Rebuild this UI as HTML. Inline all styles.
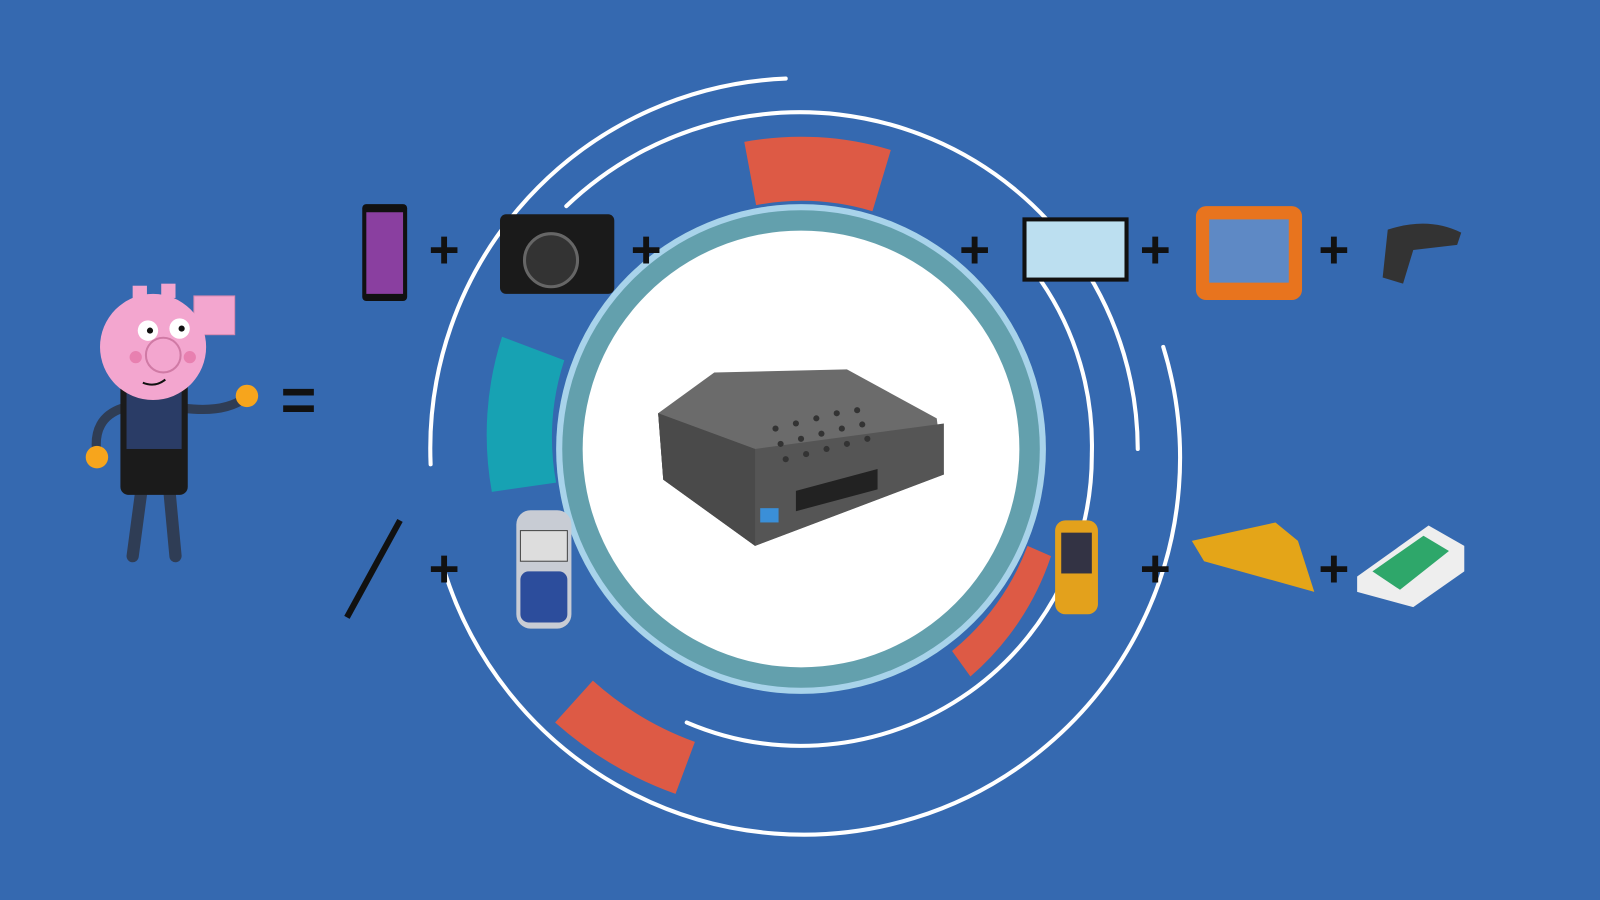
<!DOCTYPE html>
<html><head><meta charset="utf-8"><style>
html,body{margin:0;padding:0;background:#3569b0;width:1600px;height:900px;overflow:hidden}
svg{display:block}
text{font-family:"Liberation Sans",sans-serif}
</style></head><body>
<svg width="1600" height="900" viewBox="0 0 1568 882" preserveAspectRatio="none" xmlns="http://www.w3.org/2000/svg">
<rect width="1568" height="882" fill="#3569b0"/>
<g transform="translate(785,440)">
<path d="M -55.6 -301 A 306 306 0 0 1 88 -293 L 70 -233 A 243 243 0 0 0 -44 -239 Z" fill="#dd5a45"/>
<path d="M -293 -110 A 313 313 0 0 0 -303 42 L -240 33 A 242 242 0 0 1 -232 -87 Z" fill="#17a2b3"/>
<path d="M -123 338 A 360 360 0 0 1 -241 268 L -204 227 A 305 305 0 0 0 -104 287 Z" fill="#dd5a45"/>
<path d="M 245 105 A 267 267 0 0 1 166 223 L 148 198 A 242 242 0 0 0 222 95 Z" fill="#dd5a45"/>
<g fill="none" stroke="#fff" stroke-width="4" stroke-linecap="round">
<path d="M -15 -363 A 363 363 0 0 0 -363 15"/>
<path d="M -230 -238 A 331 331 0 0 1 330 0"/>
<path d="M -350 118 A 365 365 0 0 0 355 -100"/>
<path d="M -112 268 A 285 285 0 0 0 285 5 A 285 285 0 0 0 235 -165"/>
</g>
<circle r="240" fill="#a8d3ea"/>
<circle r="234" fill="#63a0ad"/>
<circle r="214" fill="#fff"/>
</g>
<g>
<path d="M645 405 L700 365 L830 362 L918 410 L925 465 L740 535 L650 470 Z" fill="#6b6b6b"/>
<path d="M645 405 L740 440 L925 415 L925 465 L740 535 L650 470 Z" fill="#555"/>
<path d="M740 440 L740 535 L650 470 L645 405 Z" fill="#4a4a4a"/>
<g fill="#333">
<circle cx="760" cy="420" r="3"/><circle cx="780" cy="415" r="3"/><circle cx="800" cy="410" r="3"/><circle cx="820" cy="405" r="3"/><circle cx="840" cy="402" r="3"/>
<circle cx="765" cy="435" r="3"/><circle cx="785" cy="430" r="3"/><circle cx="805" cy="425" r="3"/><circle cx="825" cy="420" r="3"/><circle cx="845" cy="416" r="3"/>
<circle cx="770" cy="450" r="3"/><circle cx="790" cy="445" r="3"/><circle cx="810" cy="440" r="3"/><circle cx="830" cy="435" r="3"/><circle cx="850" cy="430" r="3"/>
</g>
<rect x="780" y="480" width="80" height="20" fill="#222" transform="skewY(-15) translate(0,210)"/>
<rect x="745" y="498" width="18" height="14" fill="#3a8fd8"/>
</g>
<g font-size="52" font-weight="bold" fill="#111">
<text x="420" y="262">+</text><text x="618" y="262">+</text><text x="940" y="262">+</text>
<text x="1117" y="262">+</text><text x="1292" y="262">+</text>
<text x="420" y="575">+</text><text x="1117" y="575">+</text><text x="1292" y="575">+</text>
</g>
<text x="275" y="412" font-size="60" font-weight="bold" fill="#111">=</text>
<rect x="355" y="200" width="44" height="95" rx="4" fill="#111"/>
<rect x="359" y="208" width="36" height="80" fill="#8a3fa0"/>
<rect x="490" y="210" width="112" height="78" rx="6" fill="#1a1a1a"/>
<circle cx="540" cy="255" r="26" fill="#333" stroke="#666" stroke-width="3"/>
<rect x="1002" y="213" width="104" height="63" fill="#111"/>
<rect x="1006" y="217" width="96" height="55" fill="#bcdff0"/>
<rect x="1172" y="202" width="104" height="92" rx="10" fill="#e8741e"/>
<rect x="1185" y="215" width="78" height="62" fill="#5e89c5"/>
<path d="M1360 225 Q1400 212 1432 228 L1428 240 L1385 245 L1375 278 L1355 272 Z" fill="#333"/>
<line x1="392" y1="510" x2="340" y2="605" stroke="#111" stroke-width="6"/>
<rect x="506" y="500" width="54" height="116" rx="14" fill="#c8ccd4"/>
<rect x="510" y="520" width="46" height="30" fill="#ddd" stroke="#444"/>
<rect x="510" y="560" width="46" height="50" rx="8" fill="#2c4d9c"/>
<rect x="1034" y="510" width="42" height="92" rx="10" fill="#e3a11c"/>
<rect x="1040" y="522" width="30" height="40" fill="#334"/>
<path d="M1168 530 L1250 512 L1272 530 L1288 580 L1180 550 Z" fill="#e4a518"/>
<path d="M1330 565 L1400 515 L1435 535 L1435 560 L1385 595 L1330 580 Z" fill="#eee"/>
<path d="M1345 560 L1395 525 L1420 540 L1372 578 Z" fill="#2ea76a"/>
<g>
<path d="M140 470 L130 545 M165 470 L172 545" stroke="#2f3d55" stroke-width="12" stroke-linecap="round"/>
<path d="M120 400 Q90 410 95 445 M180 400 Q220 405 240 390" stroke="#2f3d55" stroke-width="9" fill="none" stroke-linecap="round"/>
<rect x="118" y="370" width="66" height="115" rx="8" fill="#1b1b1b"/>
<rect x="124" y="380" width="54" height="60" fill="#2a3c66"/>
<circle cx="95" cy="448" r="11" fill="#f7a51c"/>
<circle cx="242" cy="388" r="11" fill="#f7a51c"/>
<rect x="130" y="280" width="14" height="14" fill="#f3a6cf"/>
<rect x="158" y="278" width="14" height="14" fill="#f3a6cf"/>
<rect x="190" y="290" width="40" height="38" fill="#f3a6cf" stroke="#d488b0"/>
<circle cx="150" cy="340" r="52" fill="#f3a6cf"/>
<circle cx="160" cy="348" r="17" fill="#f3a6cf" stroke="#d07aa5" stroke-width="2"/>
<circle cx="145" cy="324" r="10" fill="#fff"/><circle cx="176" cy="322" r="10" fill="#fff"/>
<circle cx="147" cy="324" r="3" fill="#111"/><circle cx="178" cy="322" r="3" fill="#111"/>
<circle cx="133" cy="350" r="6" fill="#e880b0"/><circle cx="186" cy="350" r="6" fill="#e880b0"/>
<path d="M140 375 Q152 380 162 372" stroke="#111" stroke-width="2" fill="none"/>
</g>
</svg>
</body></html>
